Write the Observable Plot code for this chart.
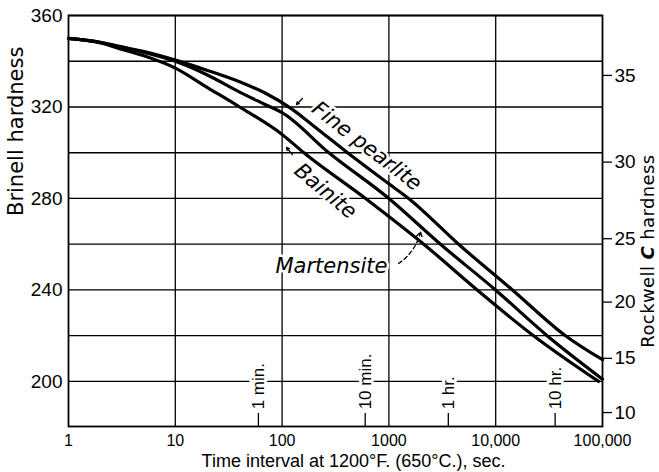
<!DOCTYPE html>
<html><head><meta charset="utf-8">
<script src="https://cdn.jsdelivr.net/npm/d3@7"></script>
<script src="https://cdn.jsdelivr.net/npm/@observablehq/plot@0.6"></script>
<style>body{margin:0;background:#fff} svg{display:block}</style>
</head><body><div id="chart"></div>
<script>
// Fine pearlite (top curve)
const pearliteTime = [1,2,3,5,10,20,40,70,120,200,410,1000,1530,4490,14350,45000,100000];
const pearliteBHN  = [350,348.3,346.5,344.3,340.5,336,331,326,319.5,311.5,300,286.4,280,260,240,220,209.5];
// Martensite (middle curve)
const martensiteTime = [1,2,3,5,10,20,40,70,100,274,1000,3040,9960,30300,100000];
const martensiteBHN  = [350,348.2,346.3,344,340,334,326.5,321,317.5,300,280,260,240,220,201];
// Bainite (bottom curve)
const bainiteTime = [1,2,3,5,10,20,40,100,160,604,2120,6710,22600,92000];
const bainiteBHN  = [350,348,345.5,342.5,337,328.5,320,308,300,280,260,240,220,200];

const xTicks = [1,10,100,1000,10000,100000];
const xTickLabels = ["1","10","100","1000","10,000","100,000"];
const timeGrid = [10,100,1000,10000];
const brinellTicks = [200,240,280,320,360];
const brinellGrid = [200,220,240,260,280,300,320,340,360];
const rockwellLabels = ["10","15","20","25","30","35"];
const rockwellAtBrinell = [186.4,210.1,234.7,262.4,295.9,333.8];
const markerTimes = [60,600,3600,36000];
const markerLabels = ["1 min.","10 min.","1 hr.","10 hr."];

// curve labels (position in time, Brinell)
const pearliteLabel = {text:"Fine pearlite", t:620, b:302.9, angle:37.6};
const bainiteLabel = {text:"Bainite", t:255, b:283.2, angle:40};
const martensiteLabel = {text:"Martensite", t:290, b:250.3, angle:0};
// leader arrows
const leaderT1 = [155,125];
const leaderB1 = [323.7,299.2];
const leaderT2 = [136.5,110];
const leaderB2 = [321.1,302.3];
const martLeader = {t1:1230,b1:251.6,t2:1977,b2:265.4};

const yMin = 180.3;

const data = [];
pearliteTime.forEach((t,i)=>data.push({series:"Fine pearlite",t,b:pearliteBHN[i]}));
martensiteTime.forEach((t,i)=>data.push({series:"Martensite",t,b:martensiteBHN[i]}));
bainiteTime.forEach((t,i)=>data.push({series:"Bainite",t,b:bainiteBHN[i]}));

const xFmt = new Map(xTicks.map((d,i)=>[d,xTickLabels[i]]));
const rFmt = new Map(rockwellAtBrinell.map((d,i)=>[d,rockwellLabels[i]]));
const leaderRows = leaderT1.map((d,i)=>({t1:d,b1:leaderB1[i],t2:leaderT2[i],b2:leaderB2[i]}));

const curveText = (L) => Plot.text([L],{x:"t", y:"b", text:"text", rotate:L.angle, fontSize:21, fontStyle:"italic", fontFamily:"DejaVu Sans", fill:"black", stroke:"white", strokeWidth:5, letterSpacing:"2px"});

const plot = Plot.plot({
  width:659, height:472,
  marginLeft:68, marginRight:57, marginTop:15, marginBottom:46,
  style:{fontFamily:"Liberation Sans", background:"white", color:"black", overflow:"visible"},
  x:{type:"log", domain:[1,100000]},
  y:{domain:[yMin,360]},
  marks:[
    Plot.gridY(brinellGrid,{stroke:"black", strokeOpacity:1, strokeWidth:1.3}),
    Plot.gridX(timeGrid,{stroke:"black", strokeOpacity:1, strokeWidth:1.3}),
    Plot.frame({stroke:"black", strokeWidth:1.8}),
    Plot.axisY(brinellTicks,{anchor:"left", tickSize:0, tickPadding:6, fontSize:19, label:null}),
    Plot.axisY(rockwellAtBrinell,{anchor:"right", tickSize:9, tickPadding:3, fontSize:19, strokeWidth:1.3, tickFormat:d=>rFmt.get(d), label:null}),
    Plot.axisX(xTicks,{anchor:"bottom", tickSize:0, tickPadding:8, fontSize:16, tickFormat:d=>xFmt.get(d), label:null}),
    Plot.ruleX(markerTimes,{y1:yMin, y2:186, stroke:"black", strokeWidth:1.3}),
    Plot.text(markerTimes,{x:d=>d, y:187.8, text:(d,i)=>markerLabels[i], rotate:-90, textAnchor:"start", fontSize:17, fill:"black", stroke:"white", strokeWidth:6}),
    curveText(pearliteLabel),
    curveText(bainiteLabel),
    curveText(martensiteLabel),
    Plot.line(data,{x:"t", y:"b", z:"series", curve:"monotone-x", stroke:"black", strokeWidth:3.2}),
    Plot.arrow(leaderRows,{x1:"t1", y1:"b1", x2:"t2", y2:"b2", stroke:"black", strokeWidth:1.3, headLength:6}),
    Plot.arrow([martLeader],{x1:"t1", y1:"b1", x2:"t2", y2:"b2", stroke:"black", strokeWidth:1.3, headLength:7, bend:-22, strokeDasharray:"4,3"}),
    Plot.text(["Time interval at 1200°F. (650°C.), sec."],{frameAnchor:"bottom", dx:18, dy:40, fontSize:18, letterSpacing:"0.6px", fill:"black"}),
    Plot.text(["Brinell hardness"],{frameAnchor:"left", dx:-52, dy:-5, rotate:-90, fontSize:21, fontFamily:"DejaVu Sans", letterSpacing:"1.2px", fill:"black"})
  ]
});
document.getElementById("chart").appendChild(plot);

// right axis title with italic bold C
const svg = d3.select(plot);
const t = svg.append("text")
  .attr("transform","translate(647,251) rotate(-90)")
  .attr("text-anchor","middle")
  .attr("dominant-baseline","central")
  .attr("font-family","DejaVu Sans")
  .attr("font-size",18)
  .attr("letter-spacing","0.4px")
  .attr("fill","black");
t.append("tspan").text("Rockwell ");
t.append("tspan").attr("font-style","italic").attr("font-weight","bold").text("C");
t.append("tspan").text(" hardness");
</script>
</body></html>
